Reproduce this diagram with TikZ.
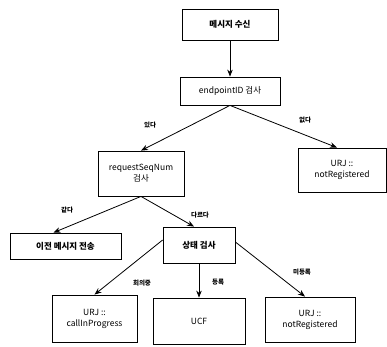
\documentclass[tikz,border=0pt]{standalone}
\usepackage{fontspec}
\setmainfont{Noto Sans CJK KR}
\usetikzlibrary{arrows.meta}
\begin{document}
\begin{tikzpicture}[x=1pt,y=-1pt,
  box/.style={draw,line width=0.8pt,inner sep=1pt,align=center,font=\fontsize{8.5}{11}\selectfont},
  arr/.style={line width=0.8pt,-{Stealth[length=7pt,width=5.5pt]}},
  lbl/.style={font=\fontsize{6.5}{8}\selectfont\bfseries}]
\useasboundingbox (0,0) rectangle (387,346);
\node[box,minimum width=96pt,minimum height=31pt] (A) at (230,24.5) {\bfseries 메시지 수신};
\node[box,minimum width=100pt,minimum height=28pt] (B) at (230,91) {endpointID 검사};
\node[box,minimum width=86pt,minimum height=45pt] (C) at (141,173.5) {requestSeqNum\\검사};
\node[box,minimum width=88pt,minimum height=44pt] (D) at (342,170) {URJ ::\\notRegistered};
\node[box,minimum width=111pt,minimum height=26pt] (E) at (65.5,246) {\bfseries 이전 메시지 전송};
\node[box,minimum width=72pt,minimum height=36pt] (F) at (199,245) {\bfseries 상태 검사};
\node[box,minimum width=85pt,minimum height=47pt] (G) at (94.5,318.5) {URJ ::\\callInProgress};
\node[box,minimum width=92pt,minimum height=46pt] (H) at (199,321) {UCF};
\node[box,minimum width=90pt,minimum height=45pt] (I) at (310,319.5) {URJ ::\\notRegistered};
\draw[arr] (A.south) -- (B.north);
\draw[arr] (B.south) -- (C.north);
\draw[arr] (B.south) -- ([xshift=-5pt]D.north);
\draw[arr] (C.south) -- ([xshift=-12pt]E.north);
\draw[arr] (C.south) -- ([xshift=-5pt]F.north);
\draw[arr] ([yshift=5pt]F.west) -- (G.north);
\draw[arr] (F.south) -- (H.north);
\draw[arr] ([yshift=3pt]F.east) -- ([xshift=-5pt]I.north);
\node[lbl] (l1) at (150,125) {있다};
\node[lbl] (l2) at (305,120) {없다};
\node[lbl] (l3) at (67,210) {같다};
\node[lbl] (l4) at (200,215) {다르다};
\node[lbl] (l5) at (142,283) {회의중};
\node[lbl] (l6) at (218,282) {등록};
\node[lbl] (l7) at (302,272) {미등록};
\end{tikzpicture}
\end{document}
